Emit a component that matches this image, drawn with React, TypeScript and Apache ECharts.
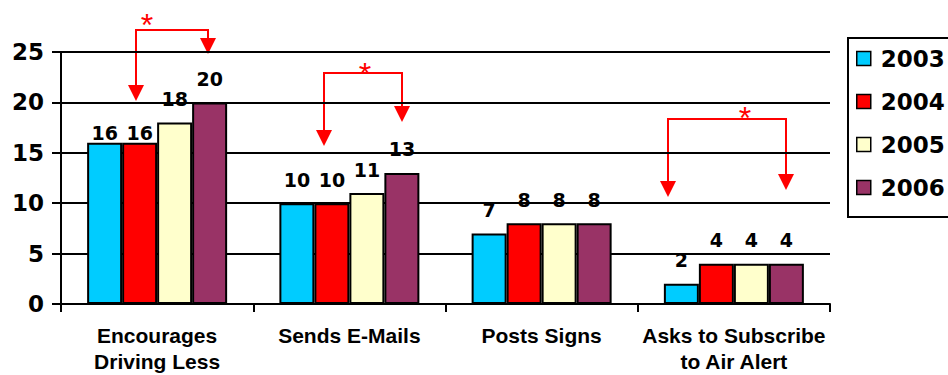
import React, { useEffect, useRef } from "react";
import * as echarts from "echarts";

const categories = ["Encourages\nDriving Less", "Sends E-Mails", "Posts Signs", "Asks to Subscribe\nto Air Alert"];
const years = ["2003", "2004", "2005", "2006"];
const values2003 = [16, 10, 7, 2];
const values2004 = [16, 10, 8, 4];
const values2005 = [18, 11, 8, 4];
const values2006 = [20, 13, 8, 4];
const yTicks = { min: 0, max: 25, interval: 5 };

const seriesValues = [values2003, values2004, values2005, values2006];
const colors = ["#00CCFF", "#FF0000", "#FFFFCC", "#993366"];
// label lift (px) above bar top; the two 16s sit lower in the original
const labelLift = [
  [0, 0, 14, 14],
  [14, 14, 14, 14],
  [14, 14, 14, 14],
  [14, 14, 14, 14],
];

const RED = "#FF0000";
const NUM_FONT = "'DejaVu Sans', Arial, sans-serif";
const TXT_FONT = "'Liberation Sans', Arial, sans-serif";

function bracket(lx: number, rx: number, top: number, lTip: number, rTip: number, sx: number, sy: number) {
  const h = 16, w = 8;
  return [
    { type: "polyline", shape: { points: [[lx, lTip - h], [lx, top], [rx, top], [rx, rTip - h]] }, style: { stroke: RED, lineWidth: 2, fill: null } },
    { type: "polygon", shape: { points: [[lx - w, lTip - h], [lx + w, lTip - h], [lx, lTip]] }, style: { fill: RED } },
    { type: "polygon", shape: { points: [[rx - w, rTip - h], [rx + w, rTip - h], [rx, rTip]] }, style: { fill: RED } },
    { type: "text", x: sx, y: sy, style: { text: "*", fill: RED, fontSize: 32, fontFamily: TXT_FONT, align: "center", verticalAlign: "middle" } },
  ];
}

export default function App() {
  const ref = useRef<HTMLDivElement>(null);
  useEffect(() => {
    if (!ref.current) return;
    const chart = echarts.init(ref.current, null, { renderer: "svg" });
    chart.setOption({
      animation: false,
      backgroundColor: "#fff",
      grid: { left: 61, right: 118, top: 52, bottom: 71, containLabel: false, outerBoundsMode: "none" },
      legend: {
        orient: "vertical",
        left: 848,
        top: 38,
        padding: [9, 60, 18, 8],
        borderColor: "#000",
        borderWidth: 2,
        itemWidth: 14,
        itemHeight: 14,
        itemGap: 20,
        icon: "rect",
        data: years,
        itemStyle: { borderColor: "#000", borderWidth: 1.5 },
        textStyle: { fontSize: 23, fontWeight: "bold", color: "#000", fontFamily: NUM_FONT, lineHeight: 23, padding: [0, 0, 0, 5] },
      },
      xAxis: {
        type: "category",
        data: categories,
        axisLine: { lineStyle: { color: "#000", width: 2 } },
        axisTick: { show: true, length: 8, lineStyle: { color: "#000", width: 2 } },
        axisLabel: { interval: 0, margin: 18, fontSize: 21, fontWeight: "bold", color: "#000", fontFamily: TXT_FONT, lineHeight: 26 },
      },
      yAxis: {
        type: "value",
        min: yTicks.min,
        max: yTicks.max,
        interval: yTicks.interval,
        axisLine: { show: true, lineStyle: { color: "#000", width: 2 } },
        axisTick: { show: true, length: 9, lineStyle: { color: "#000", width: 2 } },
        splitLine: { show: true, lineStyle: { color: "#000", width: 2 } },
        axisLabel: { margin: 17, fontSize: 23, fontWeight: "bold", color: "#000", fontFamily: NUM_FONT },
      },
      series: years.map((y, si) => ({
        name: y,
        type: "bar",
        barWidth: 35,
        barGap: "0%",
        itemStyle: { color: colors[si], borderColor: "#000", borderWidth: 2 },
        label: { show: true, position: "top", fontSize: 19, fontWeight: "bold", color: "#000", fontFamily: NUM_FONT },
        data: seriesValues[si].map((v, ci) => ({ value: v, label: { distance: labelLift[ci][si] } })),
      })),
      graphic: [
        ...bracket(136, 208, 30, 101, 54, 147, 25),
        ...bracket(324, 402, 73, 146, 122, 365, 74),
        ...bracket(668, 786, 119, 197, 190, 745, 118),
      ],
    });
    return () => chart.dispose();
  }, []);
  return <div ref={ref} style={{ position: "fixed", left: 0, top: 0, width: 948, height: 375 }} />;
}
